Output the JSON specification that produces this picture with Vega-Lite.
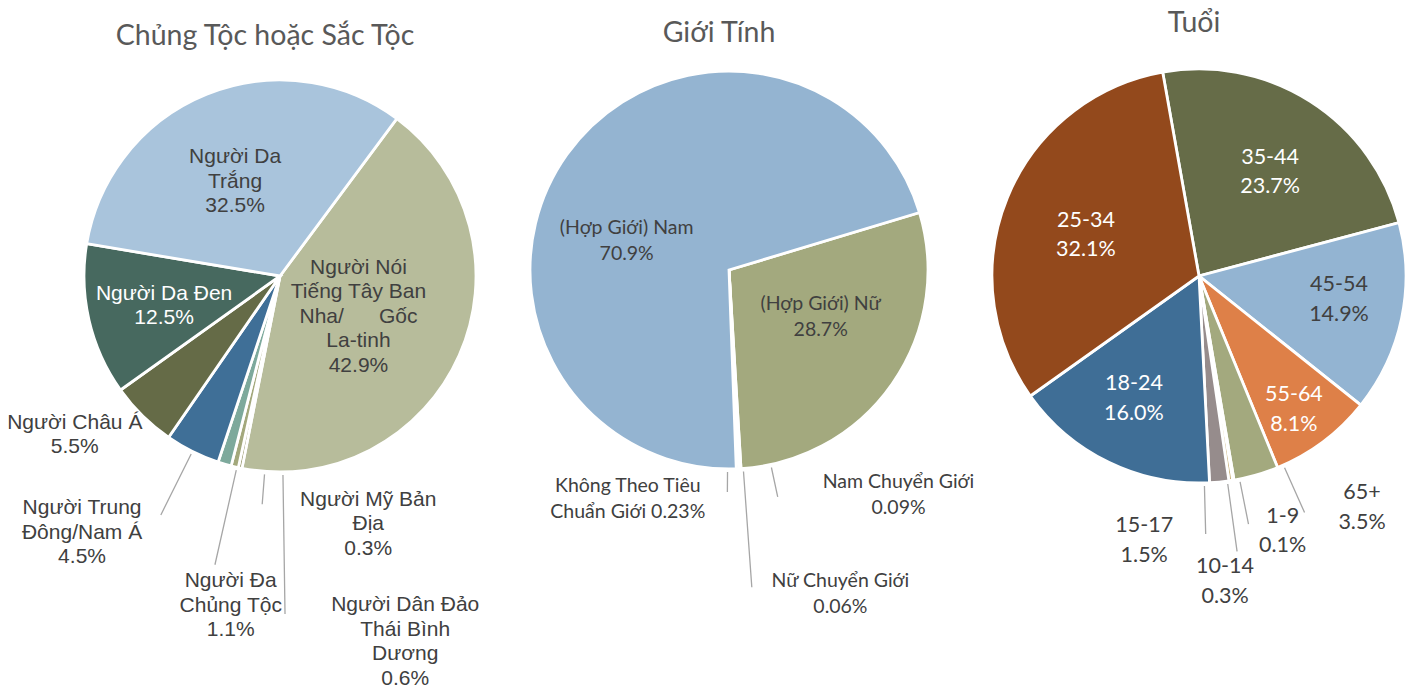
{
  "$schema": "https://vega.github.io/schema/vega-lite/v6.json",
  "background": "white",
  "padding": {"left": 7, "top": 8, "right": 0, "bottom": 0},
  "autosize": {"type": "pad"},
  "bounds": "flush",
  "spacing": 0,
  "resolve": {"scale": {"color": "independent", "theta": "independent"}},
  "config": {
    "view": {"stroke": null},
    "title": {"font": "Lato", "fontSize": 28.5, "fontWeight": "normal", "color": "#595959", "anchor": "middle"}
  },
  "hconcat": [
    {
      "width": 380, "height": 420,
      "title": {"text": "Chủng Tộc hoặc Sắc Tộc", "dx": -15, "offset": 16},
      "data": {"values": [
        {"o": 1, "g": "Người Nói Tiếng Tây Ban Nha/Gốc La-tinh", "label": "Người Nói\nTiếng Tây Ban\nNha/\u00a0\u00a0\u00a0\u00a0\u00a0\u00a0Gốc\nLa-tinh\n42.9%", "value": 42.9},
        {"o": 2, "g": "Người Mỹ Bản Địa", "label": "Người Mỹ Bản\nĐịa\n0.3%", "value": 0.3},
        {"o": 3, "g": "Người Dân Đảo Thái Bình Dương", "label": "Người Dân Đảo\nThái Bình\nDương\n0.6%", "value": 0.6},
        {"o": 4, "g": "Người Đa Chủng Tộc", "label": "Người Đa\nChủng Tộc\n1.1%", "value": 1.1},
        {"o": 5, "g": "Người Trung Đông/Nam Á", "label": "Người Trung\nĐông/Nam Á\n4.5%", "value": 4.5},
        {"o": 6, "g": "Người Châu Á", "label": "Người Châu Á\n5.5%", "value": 5.5},
        {"o": 7, "g": "Người Da Đen", "label": "Người Da Đen\n12.5%", "value": 12.5},
        {"o": 8, "g": "Người Da Trắng", "label": "Người Da\nTrắng\n32.5%", "value": 32.5}
      ]},
      "encoding": {
        "theta": {"field": "value", "type": "quantitative", "stack": true, "scale": {"range": [0.6388, 6.9220]}},
        "order": {"field": "o", "type": "quantitative"},
        "detail": {"field": "g", "type": "nominal"}
      },
      "layer": [
        {"mark": {"type": "arc", "outerRadius": 196, "stroke": "white", "strokeWidth": 2.8},
         "encoding": {"color": {"field": "g", "type": "nominal", "legend": null,
           "scale": {"domain": ["Người Nói Tiếng Tây Ban Nha/Gốc La-tinh", "Người Mỹ Bản Địa", "Người Dân Đảo Thái Bình Dương", "Người Đa Chủng Tộc", "Người Trung Đông/Nam Á", "Người Châu Á", "Người Da Đen", "Người Da Trắng"],
                     "range": ["#B7BC9B", "#8E8E60", "#A3A87C", "#7DA99C", "#3F6F97", "#656B47", "#47695F", "#A9C4DC"]}}}},
        {"mark": {"type": "arc", "padAngle": 2, "filled": false, "color": "#A6A6A6", "strokeWidth": 1.3},
         "encoding": {"radius": {"value": {"expr": "datum.o === 5 ? 267 : 0"}}, "radius2": {"value": {"expr": "datum.o === 5 ? 199 : 0"}}}},
        {"mark": {"type": "arc", "padAngle": 2, "thetaOffset": -0.065, "theta2Offset": -0.065, "filled": false, "color": "#A6A6A6", "strokeWidth": 1.3},
         "encoding": {"radius": {"value": {"expr": "datum.o === 4 ? 296 : 0"}}, "radius2": {"value": {"expr": "datum.o === 4 ? 199 : 0"}}}},
        {"mark": {"type": "arc", "padAngle": 2, "thetaOffset": -0.248, "theta2Offset": -0.248, "filled": false, "color": "#A6A6A6", "strokeWidth": 1.3},
         "encoding": {"radius": {"value": {"expr": "datum.o === 3 ? 338 : 0"}}, "radius2": {"value": {"expr": "datum.o === 3 ? 199 : 0"}}}},
        {"mark": {"type": "arc", "padAngle": 2, "thetaOffset": -0.127, "theta2Offset": -0.127, "filled": false, "color": "#A6A6A6", "strokeWidth": 1.3},
         "encoding": {"radius": {"value": {"expr": "datum.o === 2 ? 229 : 0"}}, "radius2": {"value": {"expr": "datum.o === 2 ? 199 : 0"}}}},
        {"mark": {"type": "text", "dx": -2, "dy": -44, "color": "#404040", "font": "Liberation Sans", "fontSize": 21, "lineHeight": 24.5, "lineBreak": "\n", "align": "center", "baseline": "middle"},
         "encoding": {"radius": {"value": {"expr": "datum.o === 1 ? 88 : 0"}}, "text": {"condition": {"test": "datum.o === 1", "field": "label"}, "value": ""}}},
        {"mark": {"type": "text", "dx": 134, "dy": 3.5, "color": "#404040", "font": "Liberation Sans", "fontSize": 21, "lineHeight": 24.5, "lineBreak": "\n", "align": "center", "baseline": "middle"},
         "encoding": {"radius": {"value": {"expr": "datum.o === 2 ? 225 : 0"}}, "text": {"condition": {"test": "datum.o === 2", "field": "label"}, "value": ""}}},
        {"mark": {"type": "text", "dx": 201, "dy": 10.25, "color": "#404040", "font": "Liberation Sans", "fontSize": 21, "lineHeight": 24.5, "lineBreak": "\n", "align": "center", "baseline": "middle"},
         "encoding": {"radius": {"value": {"expr": "datum.o === 3 ? 328 : 0"}}, "text": {"condition": {"test": "datum.o === 3", "field": "label"}, "value": ""}}},
        {"mark": {"type": "text", "dx": 44, "dy": -11.5, "color": "#404040", "font": "Liberation Sans", "fontSize": 21, "lineHeight": 24.5, "lineBreak": "\n", "align": "center", "baseline": "middle"},
         "encoding": {"radius": {"value": {"expr": "datum.o === 4 ? 330 : 0"}}, "text": {"condition": {"test": "datum.o === 4", "field": "label"}, "value": ""}}},
        {"mark": {"type": "text", "dx": -56, "dy": -52.5, "color": "#404040", "font": "Liberation Sans", "fontSize": 21, "lineHeight": 24.5, "lineBreak": "\n", "align": "center", "baseline": "middle"},
         "encoding": {"radius": {"value": {"expr": "datum.o === 5 ? 318 : 0"}}, "text": {"condition": {"test": "datum.o === 5", "field": "label"}, "value": ""}}},
        {"mark": {"type": "text", "dx": -25, "dy": -36.25, "color": "#404040", "font": "Liberation Sans", "fontSize": 21, "lineHeight": 24.5, "lineBreak": "\n", "align": "center", "baseline": "middle"},
         "encoding": {"radius": {"value": {"expr": "datum.o === 6 ? 257 : 0"}}, "text": {"condition": {"test": "datum.o === 6", "field": "label"}, "value": ""}}},
        {"mark": {"type": "text", "dx": 1, "dy": -9.25, "color": "#FFFFFF", "font": "Liberation Sans", "fontSize": 21, "lineHeight": 24.5, "lineBreak": "\n", "align": "center", "baseline": "middle"},
         "encoding": {"radius": {"value": {"expr": "datum.o === 7 ? 120 : 0"}}, "text": {"condition": {"test": "datum.o === 7", "field": "label"}, "value": ""}}},
        {"mark": {"type": "text", "dx": -6, "dy": -22.5, "color": "#404040", "font": "Liberation Sans", "fontSize": 21, "lineHeight": 24.5, "lineBreak": "\n", "align": "center", "baseline": "middle"},
         "encoding": {"radius": {"value": {"expr": "datum.o === 8 ? 104 : 0"}}, "text": {"condition": {"test": "datum.o === 8", "field": "label"}, "value": ""}}}
      ]
    },
    {
      "width": 518, "height": 408,
      "title": {"text": "Giới Tính", "dx": -10, "offset": 18},
      "data": {"values": [
        {"o": 1, "g": "(Hợp Giới) Nữ", "label": "(Hợp Giới) Nữ\n28.7%", "value": 28.7},
        {"o": 2, "g": "Nam Chuyển Giới", "label": "Nam Chuyển Giới\n0.09%", "value": 0.09},
        {"o": 3, "g": "Nữ Chuyển Giới", "label": "Nữ Chuyển Giới\n0.06%", "value": 0.06},
        {"o": 4, "g": "Không Theo Tiêu Chuẩn Giới", "label": "Không Theo Tiêu\nChuẩn Giới 0.23%", "value": 0.23},
        {"o": 5, "g": "(Hợp Giới) Nam", "label": "(Hợp Giới) Nam\n70.9%", "value": 70.9}
      ]},
      "encoding": {
        "theta": {"field": "value", "type": "quantitative", "stack": true, "scale": {"range": [1.2776, 7.5608]}},
        "order": {"field": "o", "type": "quantitative"},
        "detail": {"field": "g", "type": "nominal"}
      },
      "layer": [
        {"mark": {"type": "arc", "outerRadius": 199, "stroke": "white", "strokeWidth": 2.8},
         "encoding": {"color": {"field": "g", "type": "nominal", "legend": null,
           "scale": {"domain": ["(Hợp Giới) Nữ", "Nam Chuyển Giới", "Nữ Chuyển Giới", "Không Theo Tiêu Chuẩn Giới", "(Hợp Giới) Nam"],
                     "range": ["#A3A97E", "#C0504D", "#8064A2", "#4BACC6", "#94B4D1"]}}}},
        {"mark": {"type": "arc", "padAngle": 2, "thetaOffset": 0.051, "theta2Offset": 0.051, "filled": false, "color": "#A6A6A6", "strokeWidth": 1.3},
         "encoding": {"radius": {"value": {"expr": "datum.o === 4 ? 222 : 0"}}, "radius2": {"value": {"expr": "datum.o === 4 ? 202 : 0"}}}},
        {"mark": {"type": "arc", "padAngle": 2, "thetaOffset": -0.154, "theta2Offset": -0.154, "filled": false, "color": "#A6A6A6", "strokeWidth": 1.3},
         "encoding": {"radius": {"value": {"expr": "datum.o === 2 ? 232 : 0"}}, "radius2": {"value": {"expr": "datum.o === 2 ? 202 : 0"}}}},
        {"mark": {"type": "arc", "padAngle": 2, "thetaOffset": -0.019, "theta2Offset": -0.019, "filled": false, "color": "#A6A6A6", "strokeWidth": 1.3},
         "encoding": {"radius": {"value": {"expr": "datum.o === 3 ? 318 : 0"}}, "radius2": {"value": {"expr": "datum.o === 3 ? 202 : 0"}}}},
        {"mark": {"type": "text", "dx": 8, "dy": -24.75, "color": "#404040", "font": "Lato", "fontSize": 19.5, "lineHeight": 26.5, "lineBreak": "\n", "align": "center", "baseline": "middle"},
         "encoding": {"radius": {"value": {"expr": "datum.o === 1 ? 102 : 0"}}, "text": {"condition": {"test": "datum.o === 1", "field": "label"}, "value": ""}}},
        {"mark": {"type": "text", "dx": 156, "dy": -22.25, "color": "#404040", "font": "Lato", "fontSize": 19.5, "lineHeight": 26.5, "lineBreak": "\n", "align": "center", "baseline": "middle"},
         "encoding": {"radius": {"value": {"expr": "datum.o === 2 ? 234.5 : 0"}}, "text": {"condition": {"test": "datum.o === 2", "field": "label"}, "value": ""}}},
        {"mark": {"type": "text", "dx": 94, "dy": -18.25, "color": "#404040", "font": "Lato", "fontSize": 19.5, "lineHeight": 26.5, "lineBreak": "\n", "align": "center", "baseline": "middle"},
         "encoding": {"radius": {"value": {"expr": "datum.o === 3 ? 329.5 : 0"}}, "text": {"condition": {"test": "datum.o === 3", "field": "label"}, "value": ""}}},
        {"mark": {"type": "text", "dx": -111, "dy": -8.25, "color": "#404040", "font": "Lato", "fontSize": 19.5, "lineHeight": 26.5, "lineBreak": "\n", "align": "center", "baseline": "middle"},
         "encoding": {"radius": {"value": {"expr": "datum.o === 4 ? 224 : 0"}}, "text": {"condition": {"test": "datum.o === 4", "field": "label"}, "value": ""}}},
        {"mark": {"type": "text", "dx": -21, "dy": 15.75, "color": "#404040", "font": "Lato", "fontSize": 19.5, "lineHeight": 26.5, "lineBreak": "\n", "align": "center", "baseline": "middle"},
         "encoding": {"radius": {"value": {"expr": "datum.o === 5 ? 100 : 0"}}, "text": {"condition": {"test": "datum.o === 5", "field": "label"}, "value": ""}}}
      ]
    },
    {
      "width": 422, "height": 420,
      "title": {"text": "Tuổi", "dx": -5, "offset": 26},
      "data": {"values": [
        {"o": 1, "g": "35-44", "label": "35-44\n23.7%", "value": 23.7},
        {"o": 2, "g": "45-54", "label": "45-54\n14.9%", "value": 14.9},
        {"o": 3, "g": "55-64", "label": "55-64\n8.1%", "value": 8.1},
        {"o": 4, "g": "65+", "label": "65+\n3.5%", "value": 3.5},
        {"o": 5, "g": "1-9", "label": "1-9\n0.1%", "value": 0.1},
        {"o": 6, "g": "10-14", "label": "10-14\n0.3%", "value": 0.3},
        {"o": 7, "g": "15-17", "label": "15-17\n1.5%", "value": 1.5},
        {"o": 8, "g": "18-24", "label": "18-24\n16.0%", "value": 16.0},
        {"o": 9, "g": "25-34", "label": "25-34\n32.1%", "value": 32.1}
      ]},
      "encoding": {
        "theta": {"field": "value", "type": "quantitative", "stack": true, "scale": {"range": [-0.1763, 6.1069]}},
        "order": {"field": "o", "type": "quantitative"},
        "detail": {"field": "g", "type": "nominal"}
      },
      "layer": [
        {"mark": {"type": "arc", "outerRadius": 207, "stroke": "white", "strokeWidth": 2.8},
         "encoding": {"color": {"field": "g", "type": "nominal", "legend": null,
           "scale": {"domain": ["35-44", "45-54", "55-64", "65+", "1-9", "10-14", "15-17", "18-24", "25-34"],
                     "range": ["#666C48", "#93B4D2", "#DE8048", "#A3A97E", "#5B8A72", "#C9B27C", "#968C8C", "#3F6E96", "#93491C"]}}}},
        {"mark": {"type": "arc", "padAngle": 2, "thetaOffset": -0.14, "theta2Offset": -0.14, "filled": false, "color": "#A6A6A6", "strokeWidth": 1.3},
         "encoding": {"radius": {"value": {"expr": "datum.o === 4 ? 259 : 0"}}, "radius2": {"value": {"expr": "datum.o === 4 ? 210 : 0"}}}},
        {"mark": {"type": "arc", "padAngle": 2, "thetaOffset": -0.03, "theta2Offset": -0.03, "filled": false, "color": "#A6A6A6", "strokeWidth": 1.3},
         "encoding": {"radius": {"value": {"expr": "datum.o === 5 ? 253 : 0"}}, "radius2": {"value": {"expr": "datum.o === 5 ? 210 : 0"}}}},
        {"mark": {"type": "arc", "padAngle": 2, "thetaOffset": 0.017, "theta2Offset": 0.017, "filled": false, "color": "#A6A6A6", "strokeWidth": 1.3},
         "encoding": {"radius": {"value": {"expr": "datum.o === 6 ? 278 : 0"}}, "radius2": {"value": {"expr": "datum.o === 6 ? 210 : 0"}}}},
        {"mark": {"type": "arc", "padAngle": 2, "thetaOffset": 0.072, "theta2Offset": 0.072, "filled": false, "color": "#A6A6A6", "strokeWidth": 1.3},
         "encoding": {"radius": {"value": {"expr": "datum.o === 7 ? 258 : 0"}}, "radius2": {"value": {"expr": "datum.o === 7 ? 210 : 0"}}}},
        {"mark": {"type": "text", "dx": 4, "dy": -12.75, "color": "#FFFFFF", "font": "Lato", "fontSize": 21.5, "lineHeight": 29.5, "lineBreak": "\n", "align": "center", "baseline": "middle"},
         "encoding": {"radius": {"value": {"expr": "datum.o === 1 ? 125 : 0"}}, "text": {"condition": {"test": "datum.o === 1", "field": "label"}, "value": ""}}},
        {"mark": {"type": "text", "dx": 1, "dy": -19.75, "color": "#404040", "font": "Lato", "fontSize": 21.5, "lineHeight": 29.5, "lineBreak": "\n", "align": "center", "baseline": "middle"},
         "encoding": {"radius": {"value": {"expr": "datum.o === 2 ? 142 : 0"}}, "text": {"condition": {"test": "datum.o === 2", "field": "label"}, "value": ""}}},
        {"mark": {"type": "text", "dx": -3.5, "dy": -12.15, "color": "#FFFFFF", "font": "Lato", "fontSize": 21.5, "lineHeight": 29.5, "lineBreak": "\n", "align": "center", "baseline": "middle"},
         "encoding": {"radius": {"value": {"expr": "datum.o === 3 ? 164 : 0"}}, "text": {"condition": {"test": "datum.o === 3", "field": "label"}, "value": ""}}},
        {"mark": {"type": "text", "dx": 89, "dy": -40.25, "color": "#404040", "font": "Lato", "fontSize": 21.5, "lineHeight": 29.5, "lineBreak": "\n", "align": "center", "baseline": "middle"},
         "encoding": {"radius": {"value": {"expr": "datum.o === 4 ? 268 : 0"}}, "text": {"condition": {"test": "datum.o === 4", "field": "label"}, "value": ""}}},
        {"mark": {"type": "text", "dx": 39.5, "dy": -21.45, "color": "#404040", "font": "Lato", "fontSize": 21.5, "lineHeight": 29.5, "lineBreak": "\n", "align": "center", "baseline": "middle"},
         "encoding": {"radius": {"value": {"expr": "datum.o === 5 ? 266 : 0"}}, "text": {"condition": {"test": "datum.o === 5", "field": "label"}, "value": ""}}},
        {"mark": {"type": "text", "dx": -21, "dy": -11.35, "color": "#404040", "font": "Lato", "fontSize": 21.5, "lineHeight": 29.5, "lineBreak": "\n", "align": "center", "baseline": "middle"},
         "encoding": {"radius": {"value": {"expr": "datum.o === 6 ? 306 : 0"}}, "text": {"condition": {"test": "datum.o === 6", "field": "label"}, "value": ""}}},
        {"mark": {"type": "text", "dx": -80, "dy": -6.75, "color": "#404040", "font": "Lato", "fontSize": 21.5, "lineHeight": 29.5, "lineBreak": "\n", "align": "center", "baseline": "middle"},
         "encoding": {"radius": {"value": {"expr": "datum.o === 7 ? 258 : 0"}}, "text": {"condition": {"test": "datum.o === 7", "field": "label"}, "value": ""}}},
        {"mark": {"type": "text", "dx": -4.5, "dy": -16.75, "color": "#FFFFFF", "font": "Lato", "fontSize": 21.5, "lineHeight": 29.5, "lineBreak": "\n", "align": "center", "baseline": "middle"},
         "encoding": {"radius": {"value": {"expr": "datum.o === 8 ? 139 : 0"}}, "text": {"condition": {"test": "datum.o === 8", "field": "label"}, "value": ""}}},
        {"mark": {"type": "text", "dx": -2, "dy": -9.75, "color": "#FFFFFF", "font": "Lato", "fontSize": 21.5, "lineHeight": 29.5, "lineBreak": "\n", "align": "center", "baseline": "middle"},
         "encoding": {"radius": {"value": {"expr": "datum.o === 9 ? 120 : 0"}}, "text": {"condition": {"test": "datum.o === 9", "field": "label"}, "value": ""}}}
      ]
    }
  ]
}
